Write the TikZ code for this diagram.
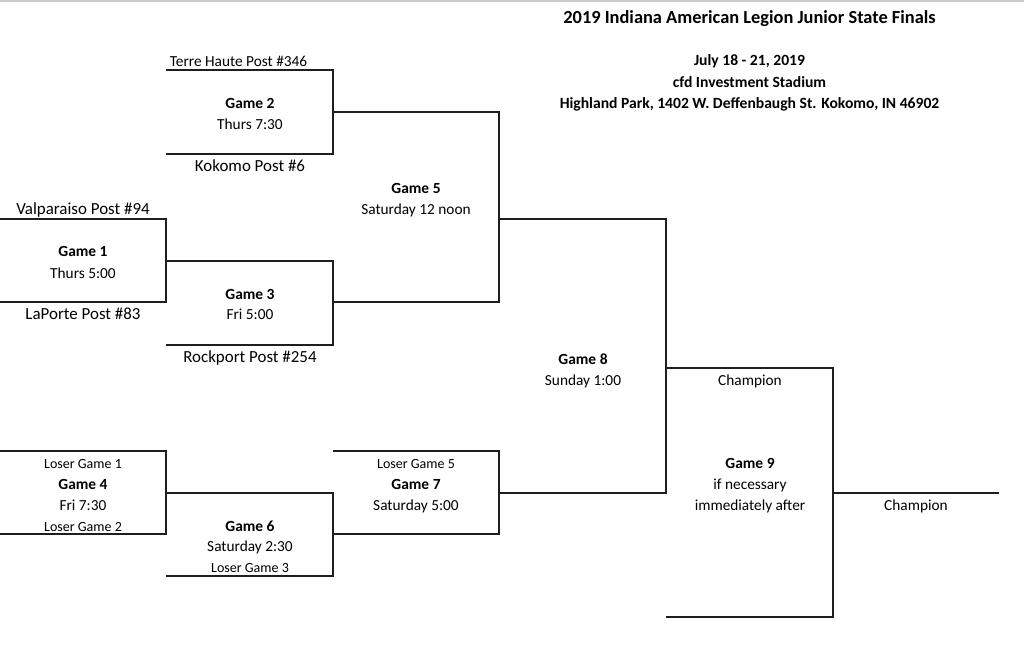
\documentclass[tikz,border=0pt]{standalone}
\usepackage{fontspec}
\setmainfont{Carlito}
\definecolor{rule}{HTML}{1E1E1E}
\definecolor{edge}{HTML}{CCCCCC}

\begin{document}
\begin{tikzpicture}[x=0.75pt, y=-0.75pt,
  bracket/.style={draw=rule, line width=1pt},
  txt/.style={font=\fontsize{11.5}{13}\selectfont, anchor=base, inner sep=0pt},
  team/.style={txt, font=\fontsize{12.7}{14}\selectfont},
  game/.style={txt, font=\fontsize{11.6}{13}\selectfont\bfseries},
  loser/.style={txt, font=\fontsize{10.5}{12}\selectfont},
  head/.style={txt, font=\fontsize{13.8}{16}\selectfont\bfseries}]
  \useasboundingbox (0,0) rectangle (1024,659);
  \draw[edge, line width=1.2pt] (0,0.8) -- (1024,0.8);

  % heading
  \node[head] (title) at (749.5,23.5) {2019 Indiana American Legion Junior State Finals};
  \node[game, font=\fontsize{11.7}{13}\selectfont\bfseries] (dates) at (749.5,66) {July 18 - 21, 2019};
  \node[game, font=\fontsize{11.7}{13}\selectfont\bfseries] (park) at (749.5,87.5) {cfd Investment Stadium};
  \node[game, font=\fontsize{11.7}{13}\selectfont\bfseries] (addr) at (749.5,108.5) {Highland Park, 1402 W. Deffenbaugh St. Kokomo, IN 46902};

  % winners' side
  \draw[bracket] (166,70) -| (333,154) -- (166,154);
  \draw[bracket] (0,219) -| (166,302) -- (0,302);
  \draw[bracket] (166,261) -| (333,345) -- (166,345);
  \draw[bracket] (333,112) -| (499,302) -- (333,302);
  \draw[bracket] (499,219) -| (666,493) -- (499,493);

  % losers' side
  \draw[bracket] (0,451) -| (166,534) -- (0,534);
  \draw[bracket] (166,493) -| (333,576) -- (166,576);
  \draw[bracket] (333,451) -| (499,534) -- (333,534);

  % final
  \draw[bracket] (666,368) -| (833,617) -- (666,617);
  \draw[bracket] (833,493) -- (999,493);

  \node[txt, anchor=base west] (terre) at (169.5,67) {Terre Haute Post \#346};
  \node[game] (g2) at (250,108.5) {Game 2};
  \node[txt] (g2t) at (250,129.5) {Thurs 7:30};
  \node[team] (kokomo) at (250,172) {Kokomo Post \#6};

  \node[team] (valpo) at (83,214.5) {Valparaiso Post \#94};
  \node[game] (g1) at (83,257) {Game 1};
  \node[txt] (g1t) at (83,278) {Thurs 5:00};
  \node[team] (laporte) at (83,320) {LaPorte Post \#83};

  \node[game] (g3) at (250,299) {Game 3};
  \node[txt] (g3t) at (250,320) {Fri 5:00};
  \node[team] (rockport) at (250,362.5) {Rockport Post \#254};

  \node[game] (g5) at (416,193.5) {Game 5};
  \node[txt] (g5t) at (416,214.5) {Saturday 12 noon};

  \node[loser] (l1) at (83,468) {Loser Game 1};
  \node[game] (g4) at (83,489) {Game 4};
  \node[txt] (g4t) at (83,510) {Fri 7:30};
  \node[loser] (l2) at (83,531) {Loser Game 2};

  \node[game] (g6) at (250,531) {Game 6};
  \node[txt] (g6t) at (250,551.5) {Saturday 2:30};
  \node[loser] (l3) at (250,572) {Loser Game 3};

  \node[loser] (l5) at (416,468) {Loser Game 5};
  \node[game] (g7) at (416,489) {Game 7};
  \node[txt] (g7t) at (416,510) {Saturday 5:00};

  \node[game] (g8) at (583,364) {Game 8};
  \node[txt] (g8t) at (583,385) {Sunday 1:00};

  \node[txt] (champ1) at (750,385) {Champion};
  \node[game] (g9) at (750,468) {Game 9};
  \node[txt] (g9a) at (750,489) {if necessary};
  \node[txt] (g9b) at (750,510) {immediately after};
  \node[txt] (champ2) at (916,510) {Champion};
\end{tikzpicture}
\end{document}
